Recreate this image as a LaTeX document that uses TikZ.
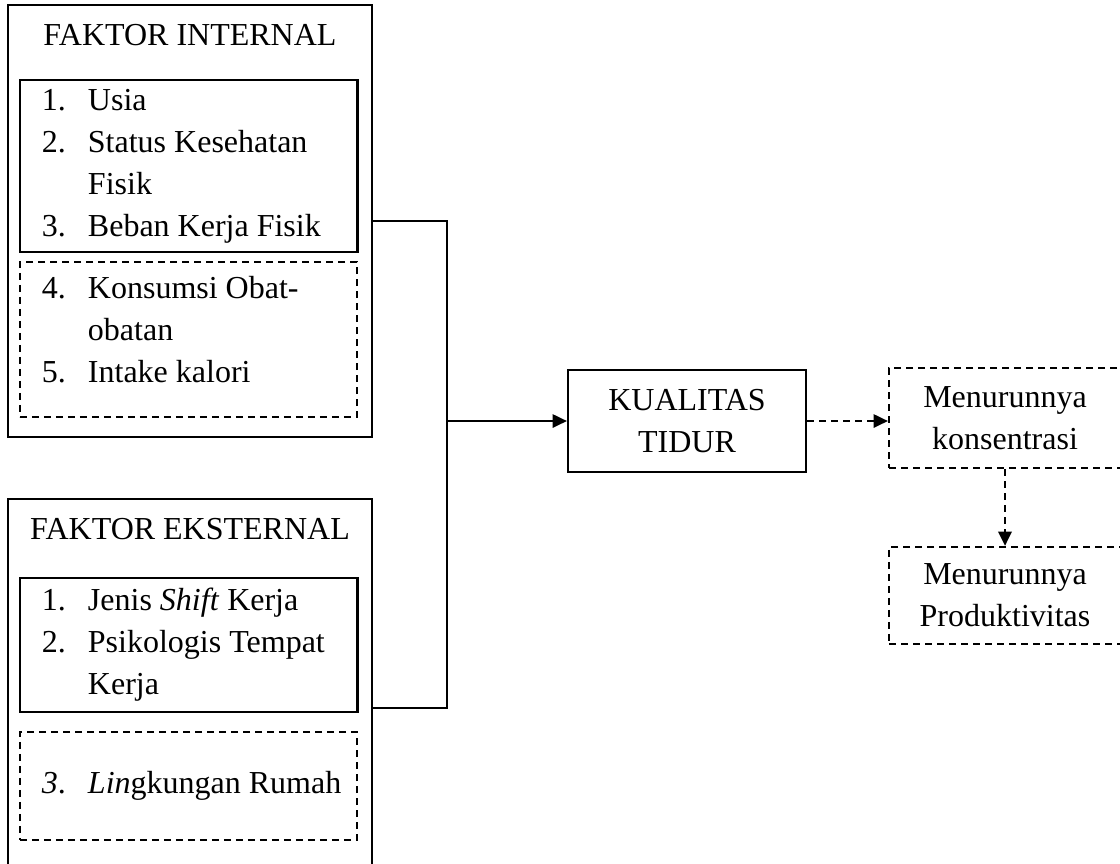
\documentclass[tikz,border=0pt]{standalone}
\usepackage{fontspec}
\setmainfont{Liberation Serif}
\usepackage{tikz}
\usetikzlibrary{arrows.meta}

\newcommand{\butir}[2]{\makebox[17.25pt][l]{#1}#2}
\newcommand{\lanjut}[1]{\hspace*{17.25pt}#1}

\tikzset{
    luar/.style={draw, line width=0.8pt, inner sep=0pt, minimum width=136.5pt},
    daftar/.style={draw, line width=1.1pt, text width=126.4pt, align=flush left, inner sep=0pt,
        execute at begin node={\leftskip=8.25pt\relax}},
    putus/.style={dash pattern=on 2.6pt off 1.9pt, line width=0.8pt},
    panah/.style={-{Triangle[length=5.4pt,width=5pt]}}
}

\begin{document}
\begin{tikzpicture}[x=0.375pt, y=-0.375pt, line width=0.8pt, font=\fontsize{12}{15.75}\selectfont]
        \useasboundingbox (0,0) rectangle (1120,863);

        % 内部因素
        \node[luar, minimum height=162pt] (intbox) at (190,221) {};
        \node[anchor=base] (intttl) at (190,45) {FAKTOR INTERNAL};
        \node[daftar, minimum height=64.5pt] (int1) at (188.5,166)
            {\butir{1.}{Usia}\\ \butir{2.}{Status Kesehatan}\\ \lanjut{Fisik}\\ \butir{3.}{Beban Kerja Fisik}};
        \node[daftar, putus, minimum height=58.1pt] (int2) at (188.5,339.5)
            {\butir{4.}{Konsumsi Obat-}\\ \lanjut{obatan}\\ \butir{5.}{Intake kalori}\\[-8pt]\mbox{}};

        % 外部因素
        \node[luar, minimum height=142.9pt] (extbox) at (190,689.5) {};
        \node[anchor=base] (extttl) at (190,539) {FAKTOR EKSTERNAL};
        \node[daftar, minimum height=50.25pt] (ext1) at (188.5,645)
            {\butir{1.}{Jenis \textit{Shift} Kerja}\\ \butir{2.}{Psikologis Tempat}\\ \lanjut{Kerja}};
        \node[daftar, putus, minimum height=40.5pt] (ext2) at (188.5,786)
            {\butir{\textit{3}.}{\textit{Lin}gkungan Rumah}};

        % 睡眠质量及其后果
        \node[draw, align=center, minimum width=89.25pt, minimum height=38.25pt] (kual) at (687,421) {KUALITAS\\TIDUR};
        \node[draw, putus, align=center, minimum width=87pt, minimum height=37.5pt] (konsen) at (1005,418) {Menurunnya\\konsentrasi};
        \node[draw, putus, align=center, minimum width=87pt, minimum height=36.4pt] (prod) at (1005,595.5) {Menurunnya\\Produktivitas};

        % 连接线
        \coordinate (jn) at (447,421);
        \draw (intbox.east) -| (jn);
        \draw ([yshift=2pt]extbox.east |- ext1.south) -| (jn);
        \draw[panah] (jn) -- (jn -| kual.west);
        \draw[panah, putus] (kual.east) -- (kual.east -| konsen.west);
        \draw[panah, putus, line width=1pt] (konsen.south) -- (prod.north);
    \end{tikzpicture}
\end{document}
